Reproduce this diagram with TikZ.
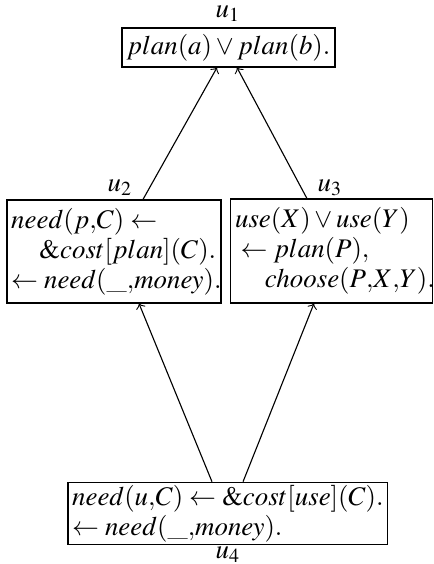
\documentclass[tikz,border=0pt]{standalone}
\usepackage{mathptmx}
\usepackage{tikz}
\usetikzlibrary{positioning}

\tikzset{
  rulebox/.style={draw,rectangle,align=left,inner xsep=1.5pt,inner ysep=1pt},
  unitlabel/.style={inner sep=0pt},
}

\begin{document}
\begin{tikzpicture}[font=\fontsize{9.6}{10.7}\selectfont]
\useasboundingbox (0,0) rectangle (5.448,-7.080);
% units
\node[rulebox,minimum width=2.674cm,minimum height=0.490cm] (u1) at (2.868,-0.596)
  {$plan(a)\vee plan(b).$};
\node[rulebox,minimum width=2.686cm,minimum height=1.293cm,text width=2.58cm] (u2) at (1.431,-3.157)
  {\mbox{$need(p{,}C)\leftarrow$}\\
   \mbox{\hspace*{10pt}$\&cost[plan](C).$}\\
   \mbox{$\leftarrow need(\_{,}money).$}};
\node[rulebox,minimum width=2.523cm,minimum height=1.305cm,text width=2.42cm] (u3) at (4.161,-3.151)
  {\mbox{$use(X)\vee use(Y)$}\\
   \mbox{\hspace*{2pt}$\leftarrow plan(P),$}\\
   \mbox{$\phantom{\leftarrow}\,choose(P{,}X{,}Y).$}};
\node[rulebox,minimum width=4.004cm,minimum height=0.766cm,text width=3.90cm] (u4) at (2.856,-6.446)
  {\mbox{$need(u{,}C)\leftarrow\&cost[use](C).$}\\
   \mbox{$\leftarrow need(\_{,}money).$}};
% unit names
\node[unitlabel] (n1) at (2.862,-0.176) {$u_1$};
\node[unitlabel] (n2) at (1.506,-2.360) {$u_2$};
\node[unitlabel] (n3) at (4.142,-2.360) {$u_3$};
\node[unitlabel] (n4) at (2.862,-6.965) {$u_4$};
% dependencies
\draw[->] ([xshift=0.364cm]u2.north) -- ([xshift=-0.144cm]u1.south);
\draw[->] ([xshift=-0.308cm]u3.north) -- ([xshift=0.107cm]u1.south);
\draw[->] ([xshift=-0.195cm]u4.north) -- ([xshift=0.314cm]u2.south);
\draw[->] ([xshift=0.195cm]u4.north) -- ([xshift=-0.220cm]u3.south);
\end{tikzpicture}
\end{document}
